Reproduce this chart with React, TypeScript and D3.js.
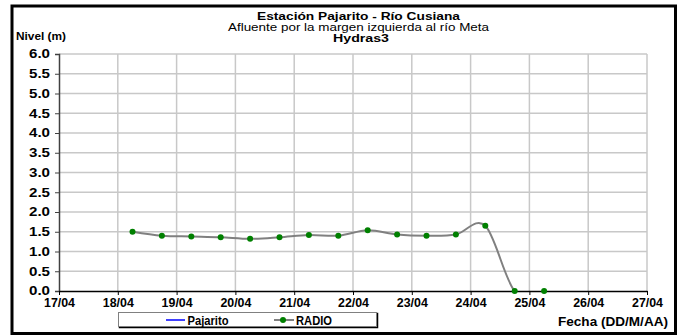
import { useEffect, useRef } from 'react';
import * as d3 from 'd3';

// Lecturas cada 12 horas (dd/mm HH:MM)
const fechas = [
  '18/04 06:00', '18/04 18:00', '19/04 06:00', '19/04 18:00', '20/04 06:00',
  '20/04 18:00', '21/04 06:00', '21/04 18:00', '22/04 06:00', '22/04 18:00',
  '23/04 06:00', '23/04 18:00', '24/04 06:00', '24/04 18:00', '25/04 06:00',
];
const radio = [1.5, 1.4, 1.38, 1.36, 1.32, 1.36, 1.42, 1.4, 1.54, 1.43, 1.4, 1.43, 1.65, 0.0, 0.0];
const pajarito: number[] = []; // sin datos en el periodo

const yTicks = [0, 0.5, 1, 1.5, 2, 2.5, 3, 3.5, 4, 4.5, 5, 5.5, 6];
const xDomain = ['17/04 00:00', '27/04 00:00'];

const titulo = 'Estación Pajarito - Río Cusiana';
const subtitulo = 'Afluente por la margen izquierda al río Meta';
const fuente = 'Hydras3';

export default function App() {
  const ref = useRef<SVGSVGElement>(null);

  useEffect(() => {
    if (!ref.current) return;
    const svg = d3.select(ref.current);
    svg.selectAll('*').remove();

    const font = 'Liberation Sans, Arial, sans-serif';
    const parse = d3.timeParse('%d/%m %H:%M');
    const left = 59, right = 647, top = 54, bottom = 291;

    const x = d3
      .scaleTime()
      .domain(xDomain.map((d) => parse(d) as Date))
      .range([left, right]);
    const y = d3.scaleLinear().domain([0, 6]).range([bottom, top]);

    // marco exterior
    svg.append('rect').attr('x', 12).attr('y', 6).attr('width', 663.5).attr('height', 327.5)
      .attr('fill', '#fff').attr('stroke', '#000').attr('stroke-width', 3);

    // títulos (el original viene algo ensanchado)
    const t = svg.append('g').attr('font-family', font).attr('text-anchor', 'middle').attr('fill', '#000')
      .attr('font-size', 10.5);
    t.append('text').attr('x', 358.5).attr('y', 19.5).attr('font-weight', 'bold')
      .attr('textLength', 203).attr('lengthAdjust', 'spacingAndGlyphs').text(titulo);
    t.append('text').attr('x', 358.5).attr('y', 30.5)
      .attr('textLength', 261).attr('lengthAdjust', 'spacingAndGlyphs').text(subtitulo);
    t.append('text').attr('x', 361).attr('y', 41.5).attr('font-weight', 'bold')
      .attr('textLength', 56).attr('lengthAdjust', 'spacingAndGlyphs').text(fuente);

    svg.append('text').attr('x', 16).attr('y', 40).attr('font-family', font).attr('font-size', 11.5)
      .attr('font-weight', 'bold').attr('textLength', 50).attr('lengthAdjust', 'spacingAndGlyphs')
      .text('Nivel (m)');

    // grilla
    const dayTicks = d3.timeDay.range(x.domain()[0], d3.timeDay.offset(x.domain()[1], 1));
    svg.append('g')
      .selectAll('line')
      .data(yTicks.slice(1))
      .enter()
      .append('line')
      .attr('x1', left).attr('x2', right)
      .attr('y1', (d) => y(d)).attr('y2', (d) => y(d))
      .attr('stroke', '#c8c8c8').attr('stroke-width', 1.5);
    svg.append('g')
      .selectAll('line')
      .data(dayTicks.slice(1))
      .enter()
      .append('line')
      .attr('x1', (d) => x(d)).attr('x2', (d) => x(d))
      .attr('y1', top).attr('y2', bottom)
      .attr('stroke', '#c8c8c8').attr('stroke-width', 1.5);

    // series
    svg.append('clipPath').attr('id', 'plot-clip')
      .append('rect').attr('x', left).attr('y', top).attr('width', right - left).attr('height', bottom - top);

    const pts = fechas.map((f, i) => ({ t: parse(f) as Date, v: radio[i] }));
    const line = d3
      .line<{ t: Date; v: number }>()
      .x((d) => x(d.t))
      .y((d) => y(d.v))
      .curve(d3.curveCardinal.tension(0));

    svg.append('path')
      .datum(pajarito.map((v, i) => ({ t: parse(fechas[i]) as Date, v })))
      .attr('fill', 'none').attr('stroke', '#0000ff').attr('stroke-width', 1.5)
      .attr('d', line);

    svg.append('path')
      .datum(pts)
      .attr('clip-path', 'url(#plot-clip)')
      .attr('fill', 'none').attr('stroke', '#808080').attr('stroke-width', 2)
      .attr('d', line);

    // ejes
    svg.append('g')
      .attr('transform', `translate(${left},0)`)
      .call(d3.axisLeft(y).tickValues(yTicks).tickSize(4).tickFormat(d3.format('.1f')))
      .call((g) => g.select('.domain').attr('stroke', '#404040').attr('stroke-width', 1.5))
      .call((g) => g.selectAll('.tick line').attr('stroke', '#404040'))
      .call((g) =>
        g.selectAll('.tick text')
          .attr('font-family', font).attr('font-size', 12).attr('font-weight', 'bold')
          .attr('textLength', 21).attr('lengthAdjust', 'spacingAndGlyphs')
          .attr('fill', '#000').attr('x', -9)
      );

    svg.append('g')
      .attr('transform', `translate(0,${bottom})`)
      .call(d3.axisBottom(x).tickValues(dayTicks).tickSize(4).tickSizeOuter(0).tickFormat(d3.timeFormat('%d/%m') as any))
      .call((g) => g.select('.domain').attr('stroke', '#000').attr('stroke-width', 1.5))
      .call((g) => g.selectAll('.tick line').attr('stroke', '#000'))
      .call((g) =>
        g.selectAll('.tick text')
          .attr('font-family', font).attr('font-size', 12).attr('font-weight', 'bold')
          .attr('textLength', 31).attr('lengthAdjust', 'spacingAndGlyphs')
          .attr('fill', '#000').attr('y', 7)
      );

    // marcadores
    svg.append('g')
      .selectAll('circle')
      .data(pts)
      .enter()
      .append('circle')
      .attr('cx', (d) => x(d.t)).attr('cy', (d) => y(d.v))
      .attr('r', 3).attr('fill', '#008000');

    // leyenda
    const lg = svg.append('g').attr('font-family', font).attr('font-size', 12).attr('font-weight', 'bold');
    lg.append('rect').attr('x', 119.5).attr('y', 313.5).attr('width', 258).attr('height', 14)
      .attr('fill', 'none').attr('stroke', '#000').attr('stroke-width', 1.5);
    lg.append('rect').attr('x', 118.5).attr('y', 312.5).attr('width', 258).attr('height', 14)
      .attr('fill', '#fff').attr('stroke', '#808080').attr('stroke-width', 1);
    lg.append('line').attr('x1', 166).attr('x2', 185).attr('y1', 320).attr('y2', 320)
      .attr('stroke', '#0000ff').attr('stroke-width', 1.5);
    lg.append('text').attr('x', 187.5).attr('y', 324.5)
      .attr('textLength', 41).attr('lengthAdjust', 'spacingAndGlyphs').text('Pajarito');
    lg.append('line').attr('x1', 274).attr('x2', 294).attr('y1', 320).attr('y2', 320)
      .attr('stroke', '#808080').attr('stroke-width', 2);
    lg.append('circle').attr('cx', 283).attr('cy', 320).attr('r', 3).attr('fill', '#008000');
    lg.append('text').attr('x', 296).attr('y', 324.5)
      .attr('textLength', 36).attr('lengthAdjust', 'spacingAndGlyphs').text('RADIO');

    svg.append('text').attr('x', 558).attr('y', 326)
      .attr('font-family', font).attr('font-size', 12).attr('font-weight', 'bold')
      .attr('textLength', 110).attr('lengthAdjust', 'spacingAndGlyphs')
      .text('Fecha (DD/M/AA)');
  }, []);

  return (
    <svg
      ref={ref}
      width={679}
      height={335}
      style={{ position: 'absolute', left: 0, top: 0, background: '#fff' }}
    />
  );
}
